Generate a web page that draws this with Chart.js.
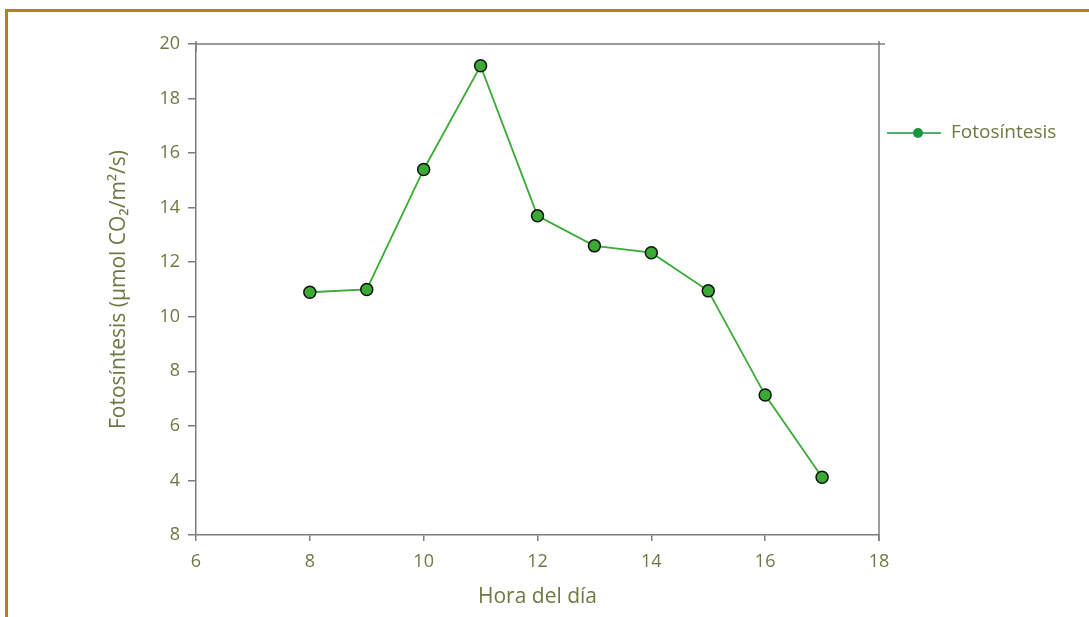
<!DOCTYPE html>
<html>
<head>
<meta charset="utf-8">
<script src="https://cdn.jsdelivr.net/npm/chart.js@4"></script>
<style>
  html, body { margin: 0; padding: 0; background: #fff; }
  #wrap { position: relative; width: 1089px; height: 617px; overflow: hidden; }
  #frame {
    position: absolute; left: 5px; top: 9px; width: 1200px; height: 700px;
    border-top: 3px solid #b0850c; border-left: 3px solid #b0850c;
  }
  canvas { position: absolute; left: 0; top: 0; }
</style>
</head>
<body>
<div id="wrap">
  <div id="frame"></div>
  <canvas id="c" width="1089" height="617"></canvas>
</div>
<script>
// Hour of the day and net photosynthesis rate
const hours = [8, 9, 10, 11, 12, 13, 14, 15, 16, 17];
const photosynthesis = [10.9, 11.0, 15.4, 19.2, 13.7, 12.6, 12.35, 10.95, 7.13, 4.12];
const xTickLabels = ['6', '8', '10', '12', '14', '16', '18'];
const yTickLabels = ['8', '4', '6', '8', '10', '12', '14', '16', '18', '20'];

const seriesName = 'Fotosíntesis';
const xTitle = 'Hora del día';
const yTitle = 'Fotosíntesis (µmol CO₂/m²/s)';

const textColor = '#6a7a42';
const axisColor = '#7d7d7d';
const fontFamily = '"Open Sans", Lato, sans-serif';

// Closes the plot box on the top and right sides
const boxPlugin = {
  id: 'box',
  afterDraw(chart) {
    const { ctx, chartArea: a } = chart;
    ctx.save();
    ctx.strokeStyle = axisColor;
    ctx.lineWidth = 1.5;
    ctx.beginPath();
    ctx.moveTo(a.left, a.top);
    ctx.lineTo(a.right + 6, a.top);
    ctx.moveTo(a.right, a.top - 3);
    ctx.lineTo(a.right, a.bottom + 6);
    ctx.moveTo(a.left, a.top - 3);
    ctx.lineTo(a.left, a.top + 8);
    ctx.stroke();
    ctx.restore();
  }
};

// Legend entry on the right: line with a dot, then the series name
const legendPlugin = {
  id: 'sideLegend',
  afterDraw(chart) {
    const { ctx, chartArea: a } = chart;
    const ds = chart.data.datasets[0];
    const y = 133;
    const x0 = a.right + 8;
    ctx.save();
    ctx.strokeStyle = '#16953f';
    ctx.lineWidth = 1.5;
    ctx.beginPath();
    ctx.moveTo(x0, y);
    ctx.lineTo(x0 + 54, y);
    ctx.stroke();
    ctx.fillStyle = '#16953f';
    ctx.beginPath();
    ctx.arc(x0 + 31, y, 5, 0, Math.PI * 2);
    ctx.fill();
    ctx.fillStyle = textColor;
    ctx.font = '19px ' + fontFamily;
    ctx.textBaseline = 'middle';
    ctx.fillText(ds.label, x0 + 64, y);
    ctx.restore();
  }
};

new Chart(document.getElementById('c'), {
  type: 'line',
  data: {
    datasets: [{
      label: seriesName,
      data: hours.map((h, i) => ({ x: h, y: photosynthesis[i] })),
      borderColor: '#3aaa35',
      borderWidth: 1.8,
      backgroundColor: '#3aaa35',
      pointBackgroundColor: '#3aaa35',
      pointBorderColor: '#111',
      pointBorderWidth: 1.5,
      pointRadius: 6,
      tension: 0
    }]
  },
  options: {
    responsive: false,
    animation: false,
    layout: { padding: { left: 98, top: 44, right: 210, bottom: 0 } },
    plugins: { legend: { display: false }, tooltip: { enabled: false } },
    scales: {
      x: {
        type: 'linear',
        min: 6, max: 18,
        afterFit(s) { s.height = 82; },
        ticks: {
          stepSize: 2,
          color: textColor,
          font: { family: fontFamily, size: 18 },
          padding: 10,
          callback: (v, i) => xTickLabels[i]
        },
        grid: { drawOnChartArea: false, drawTicks: true, tickLength: 6, color: axisColor, lineWidth: 1.5 },
        border: { display: true, color: axisColor, width: 1.5 },
        title: {
          display: true, text: xTitle, color: textColor,
          font: { family: fontFamily, size: 21 },
          padding: { top: 4, bottom: 7 }
        }
      },
      y: {
        min: 2, max: 20,
        afterFit(s) { s.width = 98; },
        ticks: {
          stepSize: 2,
          color: textColor,
          font: { family: fontFamily, size: 18 },
          padding: 8,
          callback: (v, i) => yTickLabels[i]
        },
        grid: { drawOnChartArea: false, drawTicks: true, tickLength: 8, color: axisColor, lineWidth: 1.5 },
        border: { display: true, color: axisColor, width: 1.5 },
        title: {
          display: true, text: yTitle, color: textColor,
          font: { family: fontFamily, size: 21 },
          padding: { top: 8, bottom: 4 }
        }
      }
    }
  },
  plugins: [boxPlugin, legendPlugin]
});
</script>
</body>
</html>
